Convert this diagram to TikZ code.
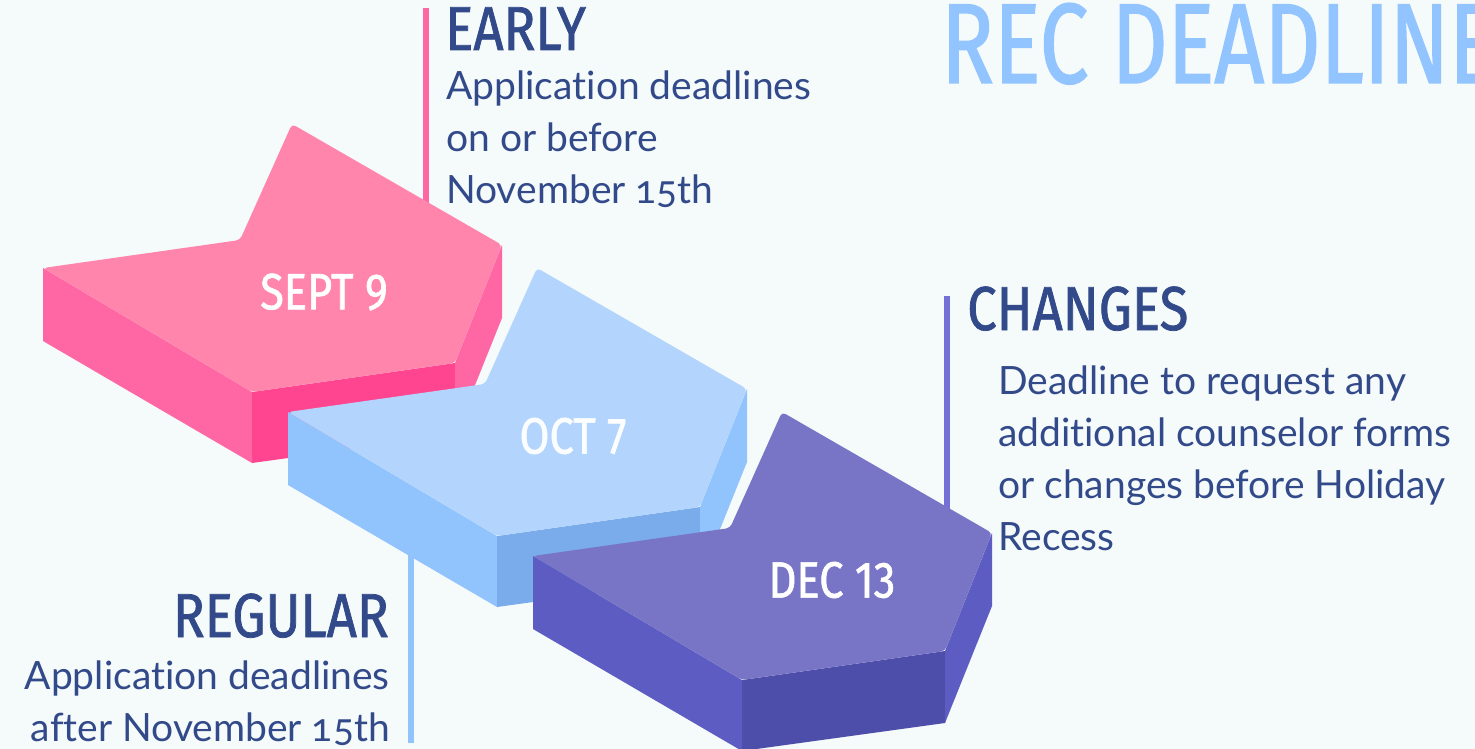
\documentclass[tikz,border=0pt]{standalone}
\usepackage{fontspec}
\setmainfont[Numbers=OldStyle, Ligatures=NoCommon]{Lato}
\newfontfamily\headfont[FakeStretch=0.85, FakeBold=1.2]{Fira Sans}
\newfontfamily\recfont[FakeStretch=0.765, FakeBold=1.2]{Fira Sans}
\usetikzlibrary{positioning}

\definecolor{bgcol}{HTML}{F5FAFA}
\definecolor{navy}{HTML}{324A8A}
\definecolor{recblue}{HTML}{92C5FF}
\definecolor{pinktop}{HTML}{FF85AD}
\definecolor{pinkside}{HTML}{FF67A4}
\definecolor{pinkfront}{HTML}{FF4590}
\definecolor{bluetop}{HTML}{B3D5FD}
\definecolor{blueside}{HTML}{91C3FD}
\definecolor{bluefront}{HTML}{7AACEC}
\definecolor{purpletop}{HTML}{7875C6}
\definecolor{purpleside}{HTML}{5D5CC2}
\definecolor{purplefront}{HTML}{4D4DAA}
\definecolor{purplebar}{HTML}{7470D8}

% one block: shift x, shift y, top, side, front colour
\newcommand\stepblock[5]{%
  \begin{scope}[shift={(#1,#2)}]
    \fill[#4] (43,268) -- (252,392) -- (252,463) -- (43,341) -- cycle;
    \fill[#5] (252,392) -- (455,363) -- (455,435) -- (252,463) -- cycle;
    \fill[#4] (455,363) -- (502,245) -- (502,318) -- (455,435) -- cycle;
    \fill[#3, rounded corners=4pt] (43,268) -- (240,240) -- (292,124) -- (502,245) -- (455,363) -- (252,392) -- cycle;
  \end{scope}}

\begin{document}
\begin{tikzpicture}[x=1pt,y=-1pt]
  \tikzset{head/.style={font=\headfont\fontsize{62}{62}\selectfont, text=navy, inner sep=0pt},
    body/.style={font=\fontsize{39}{52}\selectfont, text=navy, inner sep=0pt, align=left},
    date/.style={font=\headfont\fontsize{51}{51}\selectfont, text=white, inner sep=0pt},
    bar/.style={line width=6pt}}

  \fill[bgcol] (0,0) rectangle (1475,749);
  \clip (0,0) rectangle (1475,749);

  \node[font=\recfont\fontsize{114}{114}\selectfont, text=recblue, inner sep=0pt, anchor=base west] (rec) at (941,83) {REC DEADLINE};

  % bars behind the blocks
  \coordinate (early top) at (426,8);
  \coordinate (early end) at (426,260);
  \coordinate (regular top) at (411,540);
  \coordinate (regular end) at (411,743);
  \coordinate (changes top) at (947,296);
  \coordinate (changes end) at (947,520);
  \draw[bar, pinkside] (early top) -- (early end);
  \draw[bar, blueside] (regular top) -- (regular end);
  \draw[bar, purplebar] (changes top) -- (changes end);

  \stepblock{0}{0}{pinktop}{pinkside}{pinkfront}
  \stepblock{245}{144}{bluetop}{blueside}{bluefront}
  \stepblock{490}{288}{purpletop}{purpleside}{purplefront}

  \node[date] (sept) at (324,292) {SEPT 9};
  \node[date, text=white!95!bluetop] (oct) at (573,436) {OCT 7};
  \node[date] (dec) at (832,580) {DEC 13};

  \node[head, anchor=base west] (early) at (445,50) {EARLY};
  \node[body, anchor=north west] (early text) at (446,71) {Application deadlines\\on or before\\November 15th};

  \node[head, anchor=base west] (changes) at (967,330) {CHANGES};
  \node[body, anchor=north west] (changes text) at (998,366) {Deadline to request any\\additional counselor forms\\or changes before Holiday\\Recess};

  \node[head, anchor=base east] (regular) at (389,637) {REGULAR};
  \node[body, anchor=north east, align=right] (regular text) at (390,661) {Application deadlines\\after November 15th};
\end{tikzpicture}
\end{document}
